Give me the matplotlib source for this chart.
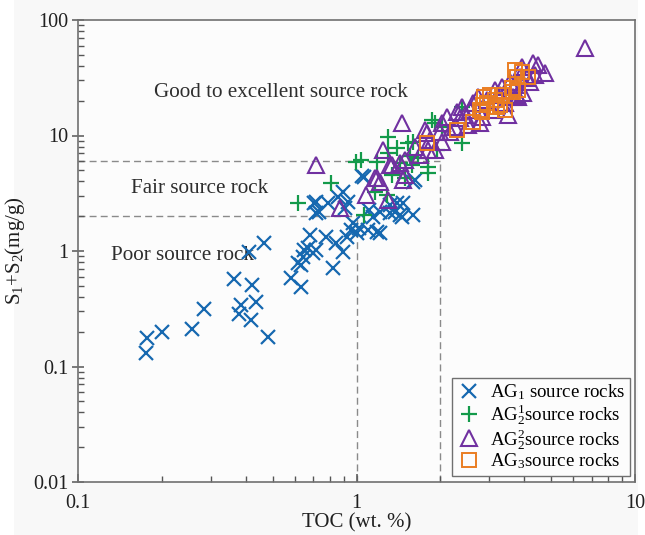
import matplotlib
matplotlib.use('Agg')
import matplotlib.pyplot as plt
from matplotlib.patches import Rectangle
from matplotlib.ticker import LogLocator, FuncFormatter, NullFormatter

plt.rcParams['font.family'] = ['Liberation Serif', 'DejaVu Serif']
plt.rcParams['mathtext.fontset'] = 'custom'
plt.rcParams['mathtext.rm'] = 'Liberation Serif'
plt.rcParams['mathtext.it'] = 'Liberation Serif:italic'

# TOC (wt.%) and S1+S2 (mg/g) for each group
ag1_toc = [0.177, 0.176, 0.200, 0.257, 0.284, 0.364, 0.423, 0.386, 0.436, 0.379,
           0.419, 0.482, 0.412, 0.467, 0.58, 0.634, 0.63, 0.64, 0.671, 0.68,
           0.718, 0.780, 0.847, 0.891, 0.821, 0.718, 0.718, 0.968, 1.0, 1.096,
           1.21, 1.142, 1.315, 1.452, 1.589, 1.403, 0.614, 0.65, 0.70, 0.921,
           1.025, 0.959, 0.706, 0.736, 0.787, 0.855, 0.891, 0.929, 0.906, 1.068,
           1.113, 1.18, 1.21, 1.37, 1.428, 1.463, 1.589, 1.315, 1.05, 1.62]
ag1_s1s2 = [0.177, 0.131, 0.199, 0.211, 0.315, 0.573, 0.508, 0.340, 0.361, 0.285,
            0.253, 0.180, 0.980, 1.172, 0.583, 0.488, 0.757, 0.887, 1.062, 1.376,
            1.020, 1.322, 1.172, 0.980, 0.713, 2.133, 2.655, 1.746, 1.432, 1.521,
            1.432, 1.968, 2.133, 1.968, 2.051, 2.605, 0.787, 1.020, 0.962, 1.322,
            1.582, 1.521, 2.605, 2.178, 2.605, 2.938, 3.243, 2.655, 2.355, 4.375,
            2.264, 1.462, 2.178, 2.178, 2.051, 2.605, 3.954, 2.5, 4.5, 4.1]

ag21_toc = [0.614, 0.813, 0.993, 1.18, 1.068, 1.161, 1.282, 1.346, 1.489, 1.799,
            1.656, 1.576, 1.294, 1.294, 1.525, 1.589, 1.862, 2.022, 1.94, 1.799,
            2.387, 1.428, 1.92, 2.40, 1.403, 1.55, 1.04]
ag21_s1s2 = [2.605, 3.876, 5.894, 5.894, 2.051, 3.243, 3.055, 4.55, 4.285, 4.732,
             6.383, 5.559, 9.70, 7.05, 8.61, 8.79, 13.6, 11.85, 7.486, 5.33,
             8.61, 5.775, 12.83, 17.66, 7.8, 6.6, 6.1]

ag22_toc = [0.718, 0.87, 1.086, 1.161, 1.21, 1.294, 1.336, 1.428, 1.463, 1.241,
            1.452, 1.786, 1.315, 1.18, 6.607, 4.478, 4.745, 4.297, 3.855, 3.767,
            1.757, 1.832, 1.92, 2.022, 2.108, 2.161, 2.29, 2.387, 2.444, 2.506,
            2.614, 2.723, 2.818, 3.061, 3.134, 3.325, 3.406, 3.548, 3.641, 3.793,
            3.955, 3.926, 4.19, 1.617, 1.685, 1.489, 1.799, 2.022, 2.252, 2.77,
            3.491, 1.99, 2.35, 2.547, 2.936, 3.266, 3.70, 4.093, 4.37, 1.489]
ag22_s1s2 = [5.56, 2.355, 3.055, 4.285, 3.954, 2.767, 5.559, 5.775, 4.116, 7.486,
             12.83, 10.51, 5.56, 4.285, 57.2, 40.8, 34.8, 42.4, 32.1, 22.4,
             11.15, 9.15, 7.486, 12.83, 14.45, 10.71, 16.0, 17.66, 15.04, 12.32,
             19.16, 21.6, 14.45, 16.6, 24.8, 26.3, 19.16, 29.2, 21.6, 21.6,
             23.4, 39.2, 29.2, 7.95, 6.77, 6.13, 7.486, 8.79, 11.85, 12.83,
             15.04, 10.71, 14.2, 16.6, 20.3, 22.4, 27.3, 31.5, 33.4, 4.55]

ag3_toc = [1.786, 2.29, 2.614, 2.77, 2.936, 3.008, 3.325, 3.19, 3.406, 3.614,
           3.793, 3.767, 3.926, 4.12, 3.70, 2.88, 3.134, 2.84, 2.818, 3.266,
           3.641]
ag3_s1s2 = [8.61, 11.15, 13.1, 16.6, 19.16, 22.4, 22.4, 17.66, 16.6, 25.7,
            24.8, 32.1, 35.5, 32.1, 36.9, 21.6, 20.3, 18.4, 16.0, 18.4,
            23.8]

fig = plt.figure(figsize=(6.45, 5.35), dpi=100, facecolor='white')
fig.patches.append(Rectangle((14 / 645, 0), 624 / 645, 1, transform=fig.transFigure,
                             facecolor='#f8f8f8', edgecolor='none', zorder=-10))
ax = fig.add_axes([78 / 645, 53 / 535, 557 / 645, 462 / 535])
ax.set_facecolor('#fcfcfc')
ax.set_xscale('log')
ax.set_yscale('log')
ax.set_xlim(0.1, 10)
ax.set_ylim(0.01, 100)

# classification boundaries
dash = dict(color='#8a8a8a', lw=1.0, ls=(0, (5, 3)), zorder=1)
ax.plot([0.1, 2], [6, 6], **dash)
ax.plot([0.1, 1], [2, 2], **dash)
ax.plot([1, 1], [0.01, 2], **dash)
ax.plot([2, 2], [0.01, 6], **dash)

txt = dict(fontsize=15.2, color='#2e2e2e', va='center')
ax.text(0.537, 23.8, 'Good to excellent source rock', ha='center', **txt)
ax.text(0.155, 3.5, 'Fair source rock', ha='left', **txt)
ax.text(0.131, 0.92, 'Poor source rock', ha='left', **txt)

ax.plot(ag1_toc, ag1_s1s2, ls='none', marker='x', ms=10, mew=1.6,
        color='#1668b0', label='AG$_1$ source rocks', zorder=3)
ax.plot(ag21_toc, ag21_s1s2, ls='none', marker='+', ms=12, mew=1.6,
        color='#139a4a', label='AG$_2^1$source rocks', zorder=4)
ax.plot(ag22_toc, ag22_s1s2, ls='none', marker='^', ms=11, mew=1.5,
        mfc='none', color='#7030a0', label='AG$_2^2$source rocks', zorder=5)
ax.plot(ag3_toc, ag3_s1s2, ls='none', marker='s', ms=10, mew=1.4,
        mfc='none', color='#ea7d22', label='AG$_3$source rocks', zorder=6)

leg = ax.legend(loc='lower right', bbox_to_anchor=(0.991, 0.013), fontsize=13.6,
                frameon=True, fancybox=False, framealpha=1, edgecolor='#707070',
                handletextpad=0.45, borderpad=0.25, labelspacing=0.0,
                handlelength=1.3, borderaxespad=0)
leg.get_frame().set_linewidth(1.0)
leg.get_frame().set_facecolor('#fcfcfc')

for s in ax.spines.values():
    s.set_color('#707070')
    s.set_linewidth(1.2)

fmt = FuncFormatter(lambda v, p: f'{v:g}')
ax.xaxis.set_major_formatter(fmt)
ax.yaxis.set_major_formatter(fmt)
ax.xaxis.set_minor_locator(LogLocator(base=10, subs=range(2, 10)))
ax.yaxis.set_minor_locator(LogLocator(base=10, subs=range(2, 10)))
ax.xaxis.set_minor_formatter(NullFormatter())
ax.yaxis.set_minor_formatter(NullFormatter())
ax.tick_params(which='both', direction='in', color='#555555', labelsize=14.5,
               labelcolor='#202020', top=False, right=False)
ax.tick_params(which='major', length=6, width=1.1)
ax.tick_params(which='minor', length=4, width=1.0)
ax.tick_params(axis='y', which='major', direction='inout', length=8, pad=3)
ax.tick_params(axis='x', pad=9)

ax.set_xlabel('TOC (wt. %)', fontsize=15, color='#202020', labelpad=0)
ax.set_ylabel('S$_1$+S$_2$(mg/g)', fontsize=15, color='#202020', labelpad=4)

fig.savefig('out.png', dpi=100, facecolor=fig.get_facecolor())
